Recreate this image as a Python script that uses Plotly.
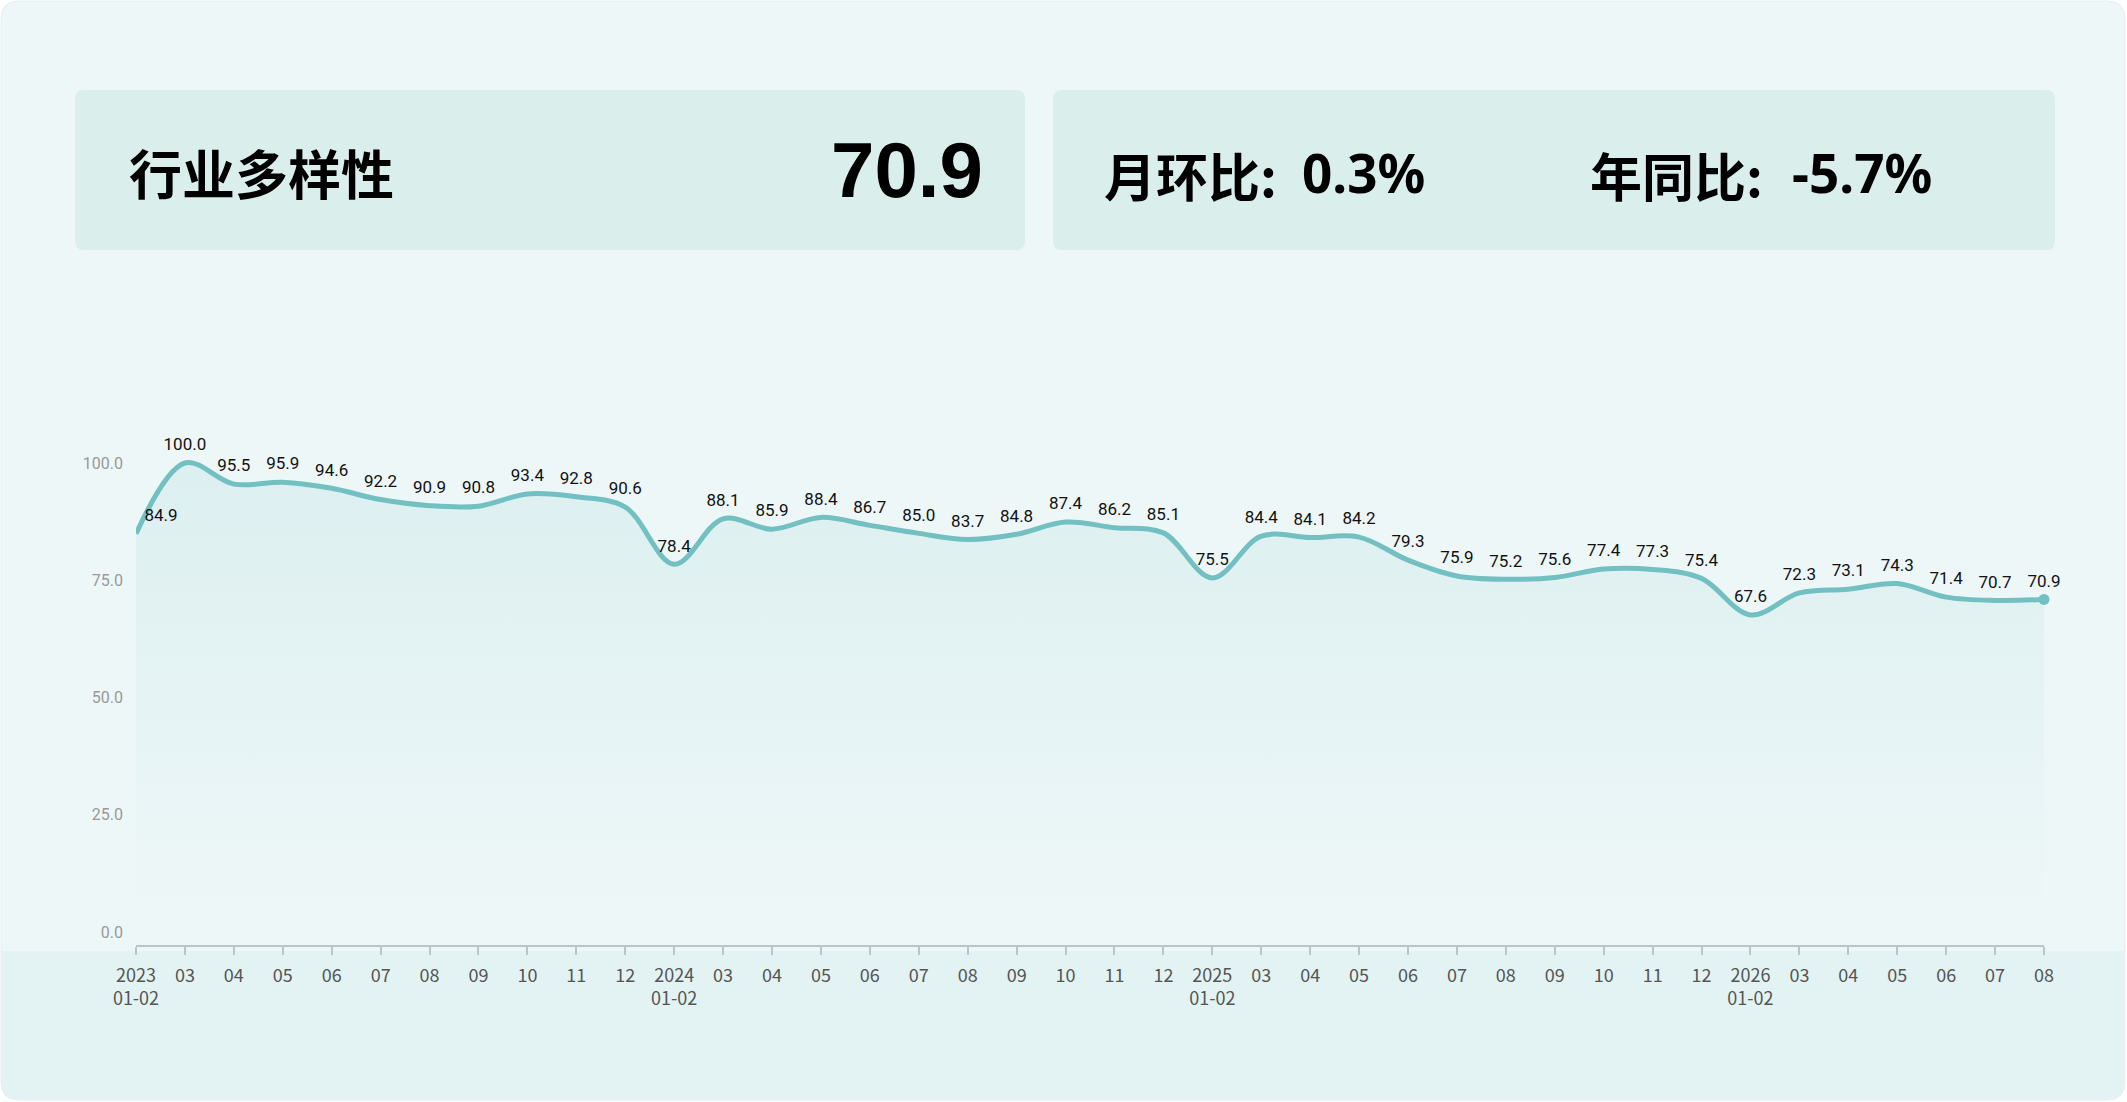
import plotly.graph_objects as go

# months on the x axis (2023-01/02 .. 2026-08)
months = ['2023<br>01-02', '03', '04', '05', '06', '07', '08', '09', '10', '11', '12',
          '2024<br>01-02', '03', '04', '05', '06', '07', '08', '09', '10', '11', '12',
          '2025<br>01-02', '03', '04', '05', '06', '07', '08', '09', '10', '11', '12',
          '2026<br>01-02', '03', '04', '05', '06', '07', '08']
diversity = [84.9, 100.0, 95.5, 95.9, 94.6, 92.2, 90.9, 90.8, 93.4, 92.8, 90.6,
             78.4, 88.1, 85.9, 88.4, 86.7, 85.0, 83.7, 84.8, 87.4, 86.2, 85.1,
             75.5, 84.4, 84.1, 84.2, 79.3, 75.9, 75.2, 75.6, 77.4, 77.3, 75.4,
             67.6, 72.3, 73.1, 74.3, 71.4, 70.7, 70.9]
y_ticks = [0, 25, 50, 75, 100]

title_text = '行业多样性'
latest_value = '70.9'
mom_label, mom_value = '月环比:', '0.3%'
yoy_label, yoy_value = '年同比:', '-5.7%'

W, H = 2127, 1102
ML, MR, MT, MB = 136, 83, 400, 157
PW, PH = W - ML - MR, H - MT - MB

LINE = '#72C0C1'


def px(x):
    return (x - ML) / PW


def py(y):
    return (H - MB - y) / PH


def rrect(x0, y0, x1, y1, r):
    # rounded rectangle in pixel coords -> paper path
    pts = [
        ('M', [(x0 + r, y0)]), ('L', [(x1 - r, y0)]), ('Q', [(x1, y0), (x1, y0 + r)]),
        ('L', [(x1, y1 - r)]), ('Q', [(x1, y1), (x1 - r, y1)]),
        ('L', [(x0 + r, y1)]), ('Q', [(x0, y1), (x0, y1 - r)]),
        ('L', [(x0, y0 + r)]), ('Q', [(x0, y0), (x0 + r, y0)]),
    ]
    s = ''
    for cmd, cs in pts:
        s += cmd + ' ' + ' '.join(f'{px(a):.5f},{py(b):.5f}' for a, b in cs) + ' '
    return s + 'Z'


x_idx = list(range(len(months)))
positions = ['top right'] + ['top center'] * (len(months) - 1)

fig = go.Figure()
fig.add_trace(go.Scatter(
    x=x_idx, y=diversity, mode='lines+markers+text',
    text=[f'{v:.1f}' for v in diversity], textposition=positions,
    textfont=dict(family='Roboto', size=17, color='#111111'),
    marker=dict(size=12, color='rgba(0,0,0,0)'),
    line=dict(color=LINE, width=5, shape='spline', smoothing=1.0),
    fill='tozeroy',
    fillgradient=dict(type='vertical', start=0, stop=100,
                      colorscale=[[0, 'rgba(114,192,193,0.0)'], [1, 'rgba(114,192,193,0.14)']]),
    hoverinfo='skip', cliponaxis=False,
))
fig.add_trace(go.Scatter(
    x=[x_idx[-1]], y=[diversity[-1]], mode='markers',
    marker=dict(color=LINE, size=11), hoverinfo='skip', cliponaxis=False,
))

shapes = [
    dict(type='path', xref='paper', yref='paper', path=rrect(1, 1, W - 2, H - 2, 18),
         fillcolor='#EEF7F8', line=dict(color='#E4EEEF', width=1), layer='below'),
    dict(type='path', xref='paper', yref='paper', path=rrect(2, 951, W - 3, H - 2, 16),
         fillcolor='#E3F3F3', line=dict(width=0), layer='below'),
    dict(type='rect', xref='paper', yref='paper', x0=px(2), x1=px(W - 3), y0=py(951), y1=py(975),
         fillcolor='#E3F3F3', line=dict(width=0), layer='below'),
    dict(type='path', xref='paper', yref='paper', path=rrect(75, 90, 1025, 250, 9),
         fillcolor='#DAEFEC', line=dict(width=0), layer='below'),
    dict(type='path', xref='paper', yref='paper', path=rrect(1053, 90, 2055, 250, 9),
         fillcolor='#DAEFEC', line=dict(width=0), layer='below'),
]

cjk = 'Noto Sans CJK SC'
annotations = [
    dict(text=f'<b>{title_text}</b>', x=px(127), y=py(172), xanchor='left', yanchor='middle',
         font=dict(family=cjk, size=53, color='#000000')),
    dict(text=f'<b>{latest_value}</b>', x=px(985), y=py(170), xanchor='right', yanchor='middle',
         font=dict(family='Liberation Sans', size=78, color='#000000')),
    dict(text=f'<b>{mom_label}</b>', x=px(1102), y=py(174), xanchor='left', yanchor='middle',
         font=dict(family=cjk, size=52, color='#000000')),
    dict(text=f'<b>{mom_value}</b>', x=px(1300), y=py(172), xanchor='left', yanchor='middle',
         font=dict(family='Noto Sans', size=53, color='#000000')),
    dict(text=f'<b>{yoy_label}</b>', x=px(1588), y=py(174), xanchor='left', yanchor='middle',
         font=dict(family=cjk, size=52, color='#000000')),
    dict(text=f'<b>{yoy_value}</b>', x=px(1790), y=py(172), xanchor='left', yanchor='middle',
         font=dict(family='Noto Sans', size=53, color='#000000')),
]
for a in annotations:
    a.update(xref='paper', yref='paper', showarrow=False)

ymin = -13 / 4.69
ymax = 532 / 4.69

fig.update_layout(
    width=W, height=H, margin=dict(l=ML, r=MR, t=MT, b=MB, pad=0),
    paper_bgcolor='white', plot_bgcolor='rgba(0,0,0,0)',
    showlegend=False, shapes=shapes, annotations=annotations,
    xaxis=dict(range=[0, len(months) - 1], tickvals=x_idx, ticktext=months,
               showgrid=False, zeroline=False, showline=True, linecolor='#B9C6C6', linewidth=2,
               ticks='outside', ticklen=8, tickwidth=1.5, tickcolor='#B9C6C6',
               ticklabelstandoff=5,
               tickfont=dict(family=cjk, size=18, color='#555555')),
    yaxis=dict(range=[ymin, ymax], tickvals=y_ticks, ticktext=[f'{v:.1f}' for v in y_ticks],
               showgrid=False, zeroline=False, showline=False, ticks='',
               ticklabelstandoff=12,
               tickfont=dict(family='Roboto', size=16, color='#999999')),
)

fig.write_html('out.html', config={'displayModeBar': False},
               post_script="document.body.style.margin='0';")
